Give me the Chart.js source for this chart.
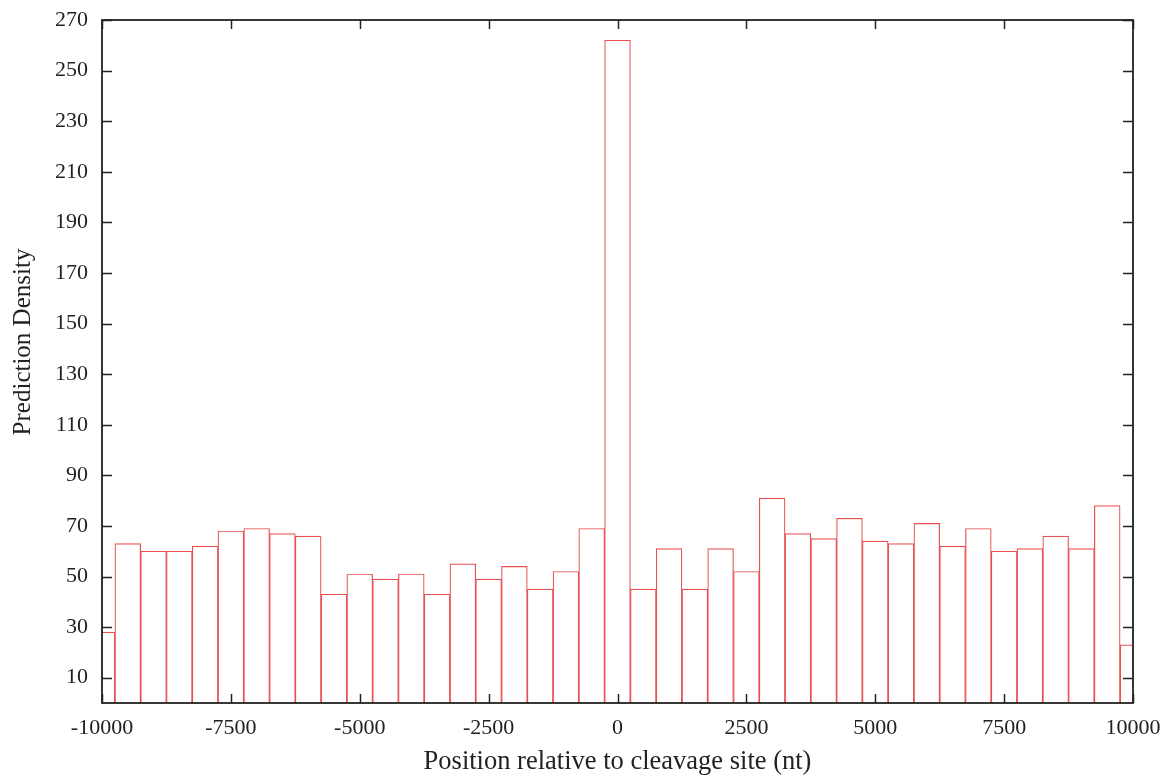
<!DOCTYPE html>
<html>
<head>
<meta charset="utf-8">
<script src="https://cdn.jsdelivr.net/npm/chart.js@4.4.0/dist/chart.umd.min.js"></script>
<style>
  html, body { margin: 0; padding: 0; background: #fff; }
  #wrap { width: 1165px; height: 782px; }
</style>
</head>
<body>
<div id="wrap"><canvas id="chart-0" width="1165" height="782"></canvas></div>
<script>
// bin centres (nt) and counts
var positions = [-10000, -9500, -9000, -8500, -8000, -7500, -7000, -6500, -6000, -5500,
                 -5000, -4500, -4000, -3500, -3000, -2500, -2000, -1500, -1000, -500,
                 0, 500, 1000, 1500, 2000, 2500, 3000, 3500, 4000, 4500,
                 5000, 5500, 6000, 6500, 7000, 7500, 8000, 8500, 9000, 9500, 10000];
var density = [28, 63, 60, 60, 62, 68, 69, 67, 66, 43,
               51, 49, 51, 43, 55, 49, 54, 45, 52, 69,
               262, 45, 61, 45, 61, 52, 81, 67, 65, 73,
               64, 63, 71, 62, 69, 60, 61, 66, 61, 78, 23];
var xTicks = [-10000, -7500, -5000, -2500, 0, 2500, 5000, 7500, 10000];
var yTicks = [10, 30, 50, 70, 90, 110, 130, 150, 170, 190, 210, 230, 250, 270];

var points = [];
for (var i = 0; i < positions.length; i++) {
    points.push({ x: positions[i], y: density[i] });
}

// gnuplot style frame with inward ticks on all four sides
var framePlugin = {
    id: "frame",
    afterDraw: function(chart) {
        var ctx = chart.ctx;
        var a = chart.chartArea;
        var xs = chart.scales.x;
        var ys = chart.scales.y;
        ctx.save();
        ctx.strokeStyle = "#222";
        ctx.lineWidth = 1.8;
        ctx.strokeRect(a.left, a.top, a.right - a.left, a.bottom - a.top);
        ctx.lineWidth = 1.5;
        ctx.beginPath();
        xTicks.forEach(function(v) {
            var px = Math.round(xs.getPixelForValue(v)) + 0.5;
            ctx.moveTo(px, a.bottom);
            ctx.lineTo(px, a.bottom - 9);
            ctx.moveTo(px, a.top);
            ctx.lineTo(px, a.top + 9);
        });
        yTicks.forEach(function(v) {
            var py = Math.round(ys.getPixelForValue(v)) + 0.5;
            ctx.moveTo(a.left, py);
            ctx.lineTo(a.left + 10, py);
            ctx.moveTo(a.right, py);
            ctx.lineTo(a.right - 10, py);
        });
        ctx.stroke();

        // y axis title
        ctx.fillStyle = "#222";
        ctx.font = "25px 'Liberation Serif'";
        ctx.textAlign = "center";
        ctx.textBaseline = "middle";
        ctx.translate(23, 342);
        ctx.rotate(-Math.PI / 2);
        ctx.fillText("Prediction Density", 0, 0);
        ctx.restore();
    }
};

var ctx0 = document.getElementById("chart-0");
var myChart = new Chart(ctx0, {
    type: "bar",
    data: {
        datasets: [{
            data: points,
            backgroundColor: "#ffffff",
            borderColor: "rgb(232, 80, 80)",
            borderWidth: 1.2,
            borderSkipped: "bottom",
            barPercentage: 1.0,
            categoryPercentage: 1.0,
            clip: 0
        }]
    },
    options: {
        responsive: false,
        animation: false,
        layout: { padding: { top: 20, right: 32, left: 0, bottom: 0 } },
        plugins: {
            legend: { display: false },
            tooltip: { enabled: false }
        },
        scales: {
            x: {
                type: "linear",
                min: -10000,
                max: 10000,
                offset: false,
                grid: { display: false, drawTicks: false, offset: false },
                border: { display: false },
                afterBuildTicks: function(scale) {
                    scale.ticks = xTicks.map(function(v) { return { value: v }; });
                },
                afterFit: function(scale) {
                    scale.height = 79;
                    scale.paddingLeft = 0;
                    scale.paddingRight = 0;
                },
                ticks: {
                    autoSkip: false,
                    maxRotation: 0,
                    padding: 12,
                    color: "#222",
                    font: { family: "'Liberation Serif'", size: 22 },
                    callback: function(value) { return String(value); }
                },
                title: {
                    display: true,
                    text: "Position relative to cleavage site (nt)",
                    color: "#222",
                    font: { family: "'Liberation Serif'", size: 26.5 },
                    padding: { top: 0, bottom: 4 }
                }
            },
            y: {
                min: 0,
                max: 270,
                grid: { display: false, drawTicks: false },
                border: { display: false },
                afterBuildTicks: function(scale) {
                    scale.ticks = yTicks.map(function(v) { return { value: v }; });
                },
                afterFit: function(scale) {
                    scale.width = 102;
                    scale.paddingTop = 0;
                    scale.paddingBottom = 0;
                },
                ticks: {
                    autoSkip: false,
                    padding: 14,
                    color: "#222",
                    font: { family: "'Liberation Serif'", size: 22 }
                }
            }
        }
    },
    plugins: [framePlugin]
});
</script>
</body>
</html>
